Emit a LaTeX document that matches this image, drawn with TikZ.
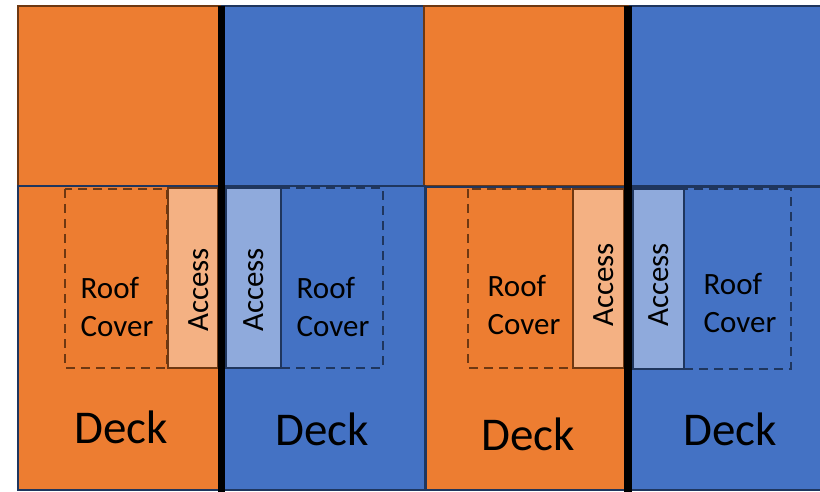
\documentclass[tikz,border=0pt]{standalone}
\usepackage{fontspec}
\setmainfont{Carlito}
\definecolor{orng}{HTML}{ED7D31}
\definecolor{blu}{HTML}{4472C4}
\definecolor{lorng}{HTML}{F4B183}
\definecolor{lblu}{HTML}{8FAADC}
\definecolor{brn}{HTML}{6E3812}
\definecolor{nvy}{HTML}{1F365E}
\tikzset{
  obox/.style={fill=orng, draw=brn, line width=1.8pt},
  bbox/.style={fill=blu, draw=nvy, line width=1.8pt},
  odeck/.style={fill=orng, draw=nvy, line width=1.8pt},
  oacc/.style={fill=lorng, draw=brn, line width=1.6pt},
  bacc/.style={fill=lblu, draw=nvy, line width=1.6pt},
  oroof/.style={draw=brn, line width=2pt, dash pattern=on 9pt off 6pt},
  broof/.style={draw=nvy, line width=2pt, dash pattern=on 9pt off 6pt},
  sep/.style={draw=black, line cap=butt},
  lbl/.style={font=\fontsize{31}{37}\selectfont, inner sep=0pt, text=black},
  acc/.style={font=\fontsize{31}{37}\selectfont, inner sep=0pt, rotate=90, text=black},
  dk/.style={font=\fontsize{47}{56}\selectfont, inner sep=0pt, anchor=base, text=black},
}
\begin{document}
\begin{tikzpicture}[x=1pt,y=-1pt]
\useasboundingbox (0,0) rectangle (820,492);
\fill[white] (0,0) rectangle (820,492);
% top row
\draw[obox] (18,6) rectangle (220,186);
\draw[bbox] (222,6) rectangle (424,186);
\draw[obox] (424,6) rectangle (628,186);
\draw[bbox] (630,6) rectangle (824,186);
% decks
\draw[odeck] (18,186) rectangle (220,490);
\draw[bbox] (222,186) rectangle (425,490);
\draw[odeck] (426,187) rectangle (628,490);
\draw[bbox] (630,187) rectangle (824,490);
% panel 1
\draw[oacc] (168,188) rectangle (218,368);
\draw[oroof] (65,189) rectangle (167,368);
% panel 2
\draw[bacc] (226,188) rectangle (281,368);
\draw[broof] (281,188) rectangle (383,368);
% panel 3
\draw[oacc] (573,189) rectangle (624,368);
\draw[oroof] (468,189) rectangle (573,368);
% panel 4
\draw[bacc] (633,189) rectangle (684,369);
\draw[broof] (684,189) rectangle (791,369);
% separators
\coordinate (s1t) at (221.5,6); \coordinate (s1b) at (221.5,492);
\coordinate (s2t) at (628,6); \coordinate (s2b) at (628,492);
\draw[sep, line width=7pt] (s1t) -- (s1b);
\draw[sep, line width=8pt] (s2t) -- (s2b);
% texts
\node[lbl, anchor=base west] (r1a) at (80.5,298) {Roof};
\node[lbl, anchor=base west] (r1b) at (80.5,336) {Cover};
\node[lbl, anchor=base west] (r2a) at (296.5,298) {Roof};
\node[lbl, anchor=base west] (r2b) at (296.5,336) {Cover};
\node[lbl, anchor=base west] (r3a) at (487.5,296) {Roof};
\node[lbl, anchor=base west] (r3b) at (487.5,334) {Cover};
\node[lbl, anchor=base west] (r4a) at (703.5,294) {Roof};
\node[lbl, anchor=base west] (r4b) at (703.5,332) {Cover};
\node[acc] (a1) at (199,290) {Access};
\node[acc] (a2) at (254,290) {Access};
\node[acc] (a3) at (604,285) {Access};
\node[acc] (a4) at (659,285) {Access};
\node[dk] (d1) at (121,443) {Deck};
\node[dk] (d2) at (322,445) {Deck};
\node[dk] (d3) at (528,450) {Deck};
\node[dk] (d4) at (730,445) {Deck};
\end{tikzpicture}
\end{document}
